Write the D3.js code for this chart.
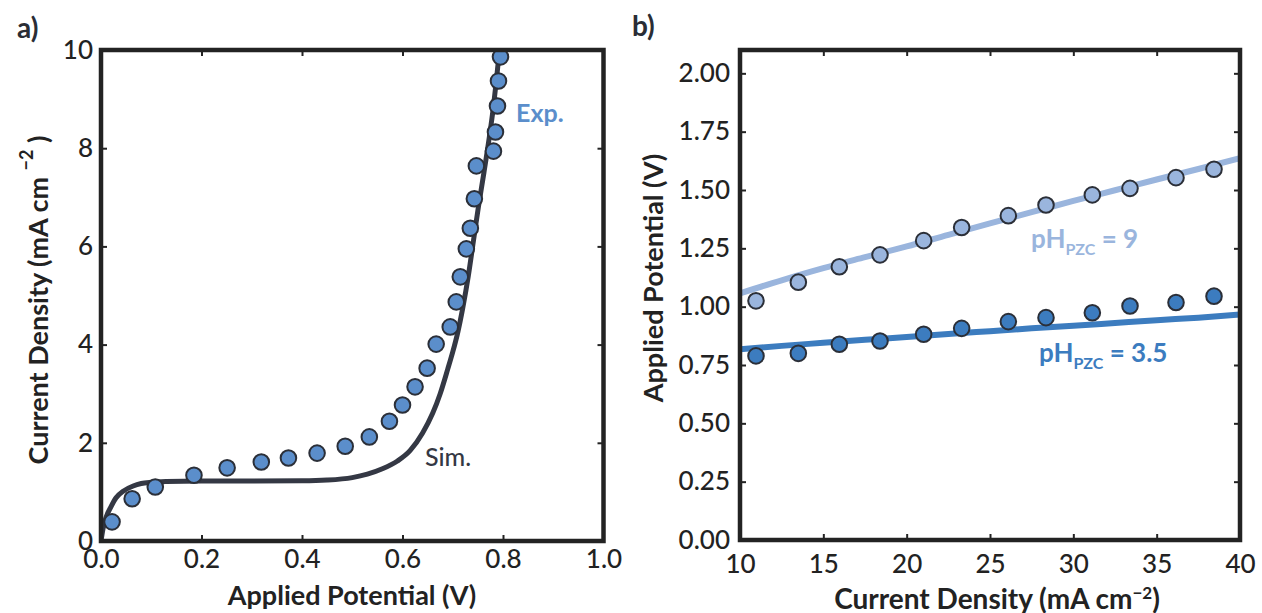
<!DOCTYPE html>
<html><head><meta charset="utf-8">
<script src="https://cdn.jsdelivr.net/npm/d3@7"></script>
<style>
html,body{margin:0;padding:0;background:#fff;}
svg{display:block;font-family:Lato,"Open Sans",sans-serif;}
</style></head>
<body><svg id="c" width="1262" height="613"></svg>
<script>
// ---------- Panel a data ----------
const expPotential = [0.022,0.062,0.108,0.185,0.251,0.319,0.373,0.43,0.486,0.534,0.574,0.600,0.625,0.649,0.667,0.695,0.707,0.715,0.727,0.735,0.743,0.747,0.781,0.785,0.789,0.791,0.795];
const expCurrent   = [0.39,0.86,1.10,1.34,1.49,1.61,1.69,1.79,1.93,2.12,2.44,2.77,3.14,3.52,4.01,4.36,4.87,5.38,5.95,6.37,6.97,7.64,7.94,8.33,8.86,9.37,9.86];
const simPotential = [0,0.004,0.01,0.02,0.03,0.045,0.064,0.08,0.10,0.13,0.2,0.3,0.4,0.45,0.5,0.53,0.56,0.59,0.615,0.64,0.66,0.675,0.69,0.70,0.71,0.72,0.731,0.741,0.751,0.762,0.772,0.781,0.787,0.793];
const simCurrent   = [0,0.25,0.48,0.70,0.88,1.02,1.12,1.17,1.195,1.21,1.22,1.22,1.225,1.24,1.29,1.36,1.47,1.63,1.84,2.2,2.6,3.0,3.5,3.85,4.25,4.75,5.4,6.1,6.8,7.5,8.17,8.85,9.4,10.0];
const aXTicks = [0,0.2,0.4,0.6,0.8,1.0];
const aYTicks = [0,2,4,6,8,10];

// ---------- Panel b data ----------
const bCurrent  = [10.96,13.5,15.96,18.4,21.02,23.3,26.1,28.36,31.14,33.4,36.16,38.44];
const bPzc9     = [1.025,1.105,1.171,1.222,1.283,1.339,1.39,1.436,1.479,1.507,1.553,1.589];
const bPzc35    = [0.789,0.80,0.839,0.853,0.882,0.907,0.936,0.953,0.974,1.003,1.018,1.045];
const fitCurrent = [10,12.5,15,17.5,20,22.5,25,27.5,30,32.5,35,37.5,40];
const fitPzc9    = [1.057,1.113,1.165,1.212,1.258,1.308,1.357,1.405,1.453,1.499,1.545,1.59,1.636];
const fitPzc35   = [0.817,0.832,0.845,0.858,0.870,0.883,0.895,0.907,0.918,0.930,0.942,0.953,0.966];
const bXTicks = [10,15,20,25,30,35,40];
const bYTicks = [0,0.25,0.5,0.75,1.0,1.25,1.5,1.75,2.0];

const svg = d3.select("#c");
const frameColor = "#232323";
const textColor = "#222";

function frameAndAxes(g, x, y, xt, yt, xfmt, yfmt, xpad, ypad){
  const [x0,x1] = x.range(), [y0,y1] = y.range();
  const tk = 6;
  const ab = g.append("g").attr("transform",`translate(0,${y0})`)
    .call(d3.axisBottom(x).tickValues(xt).tickFormat(xfmt).tickSizeInner(-tk).tickSizeOuter(0).tickPadding(xpad));
  const at = g.append("g").attr("transform",`translate(0,${y1})`)
    .call(d3.axisTop(x).tickValues(xt).tickFormat("").tickSizeInner(-tk).tickSizeOuter(0));
  const al = g.append("g").attr("transform",`translate(${x0},0)`)
    .call(d3.axisLeft(y).tickValues(yt).tickFormat(yfmt).tickSizeInner(-tk).tickSizeOuter(0).tickPadding(ypad));
  const ar = g.append("g").attr("transform",`translate(${x1},0)`)
    .call(d3.axisRight(y).tickValues(yt).tickFormat("").tickSizeInner(-tk).tickSizeOuter(0));
  [ab,at,al,ar].forEach(a=>{
    a.select(".domain").remove();
    a.selectAll(".tick line").attr("stroke",frameColor).attr("stroke-width",2);
    a.selectAll(".tick text").attr("fill",textColor).style("font-size","26px").style("font-family","Lato").style("font-weight",500);
  });
}
function drawFrame(g,x,y){
  const [x0,x1] = x.range(), [y0,y1] = y.range();
  g.append("rect").attr("x",x0).attr("y",y1).attr("width",x1-x0).attr("height",y0-y1)
    .attr("fill","none").attr("stroke",frameColor).attr("stroke-width",4.5);
}

// ================= Panel a =================
const ax = d3.scaleLinear().domain([0,1]).range([101,603.5]);
const ay = d3.scaleLinear().domain([0,10]).range([541,50]);
const ga = svg.append("g");
frameAndAxes(ga, ax, ay, aXTicks, aYTicks, d3.format(".1f"), d3.format("d"), 9, 8);
ga.append("clipPath").attr("id","clipA").append("rect").attr("x",101).attr("y",50).attr("width",502.5).attr("height",491);
const simData = simPotential.map((v,i)=>[v,simCurrent[i]]);
ga.append("path").datum(simData).attr("clip-path","url(#clipA)")
  .attr("d", d3.line().x(d=>ax(d[0])).y(d=>ay(d[1])).curve(d3.curveMonotoneX))
  .attr("fill","none").attr("stroke","#343844").attr("stroke-width",5).attr("stroke-linecap","butt");
ga.selectAll("circle.exp").data(expPotential.map((v,i)=>[v,expCurrent[i]])).join("circle")
  .attr("class","exp").attr("cx",d=>ax(d[0])).attr("cy",d=>ay(d[1])).attr("r",7.8)
  .attr("fill","#5b8ecb").attr("stroke","#2b2f38").attr("stroke-width",2);
drawFrame(ga, ax, ay);
ga.append("text").attr("x",516).attr("y",122).text("Exp.")
  .attr("fill","#5b8ecb").style("font-size","25px").style("font-weight",700);
ga.append("text").attr("x",425).attr("y",466).text("Sim.")
  .attr("fill","#343844").style("font-size","25px").style("font-weight",500);
ga.append("text").attr("x",352).attr("y",605).attr("text-anchor","middle")
  .text("Applied Potential (V)").attr("fill",textColor).style("font-size","27px").style("font-weight",700);
const aty = ga.append("text").attr("transform","translate(48,300) rotate(-90)").attr("text-anchor","middle")
  .attr("fill",textColor).style("font-size","27px").style("font-weight",700);
aty.append("tspan").text("Current Density (mA cm ");
aty.append("tspan").text("−2").attr("dy",-15).style("font-size","18px");
aty.append("tspan").text(" )").attr("dy",15);
svg.append("text").attr("x",17).attr("y",38).text("a)").attr("fill","#2a2d35")
  .style("font-size","28px").style("font-weight",700);

// ================= Panel b =================
const bx = d3.scaleLinear().domain([10,40]).range([740,1240]);
const by = d3.scaleLinear().domain([0,2.1]).range([540,50]);
const gb = svg.append("g");
frameAndAxes(gb, bx, by, bXTicks, bYTicks, d3.format("d"), d3.format(".2f"), 15, 10);
gb.append("clipPath").attr("id","clipB").append("rect").attr("x",740).attr("y",50).attr("width",500).attr("height",490);
const lineB = d3.line().x(d=>bx(d[0])).y(d=>by(d[1])).curve(d3.curveMonotoneX);
const light = "#9ab5dd", dark = "#3c7cbf";
gb.append("path").datum(fitCurrent.map((v,i)=>[v,fitPzc9[i]])).attr("clip-path","url(#clipB)")
  .attr("d",lineB).attr("fill","none").attr("stroke",light).attr("stroke-width",6);
gb.append("path").datum(fitCurrent.map((v,i)=>[v,fitPzc35[i]])).attr("clip-path","url(#clipB)")
  .attr("d",lineB).attr("fill","none").attr("stroke",dark).attr("stroke-width",6);
gb.selectAll("circle.p9").data(bCurrent.map((v,i)=>[v,bPzc9[i]])).join("circle")
  .attr("class","p9").attr("cx",d=>bx(d[0])).attr("cy",d=>by(d[1])).attr("r",7.8)
  .attr("fill",light).attr("stroke","#2b2f38").attr("stroke-width",2);
gb.selectAll("circle.p35").data(bCurrent.map((v,i)=>[v,bPzc35[i]])).join("circle")
  .attr("class","p35").attr("cx",d=>bx(d[0])).attr("cy",d=>by(d[1])).attr("r",7.8)
  .attr("fill",dark).attr("stroke","#2b2f38").attr("stroke-width",2);
drawFrame(gb, bx, by);
function phLabel(x,y,val,color){
  const t = gb.append("text").attr("x",x).attr("y",y).attr("fill",color)
    .style("font-size","26px").style("font-weight",700);
  t.append("tspan").text("pH");
  t.append("tspan").text("PZC").attr("dy",7).style("font-size","16px");
  t.append("tspan").text(" = "+val).attr("dy",-7);
}
phLabel(1031,248,"9",light);
phLabel(1039,362,"3.5",dark);
const btx = gb.append("text").attr("x",997).attr("y",609).attr("text-anchor","middle")
  .attr("fill",textColor).style("font-size","28px").style("font-weight",700);
btx.append("tspan").text("Current Density (mA cm");
btx.append("tspan").text("−2").attr("dy",-10).style("font-size","17px");
btx.append("tspan").text(")").attr("dy",10);
gb.append("text").attr("transform","translate(663,278) rotate(-90)").attr("text-anchor","middle")
  .text("Applied Potential (V)").attr("fill",textColor).style("font-size","27px").style("font-weight",700);
svg.append("text").attr("x",632).attr("y",36).text("b)").attr("fill","#2a2d35")
  .style("font-size","28px").style("font-weight",700);
</script></body></html>
